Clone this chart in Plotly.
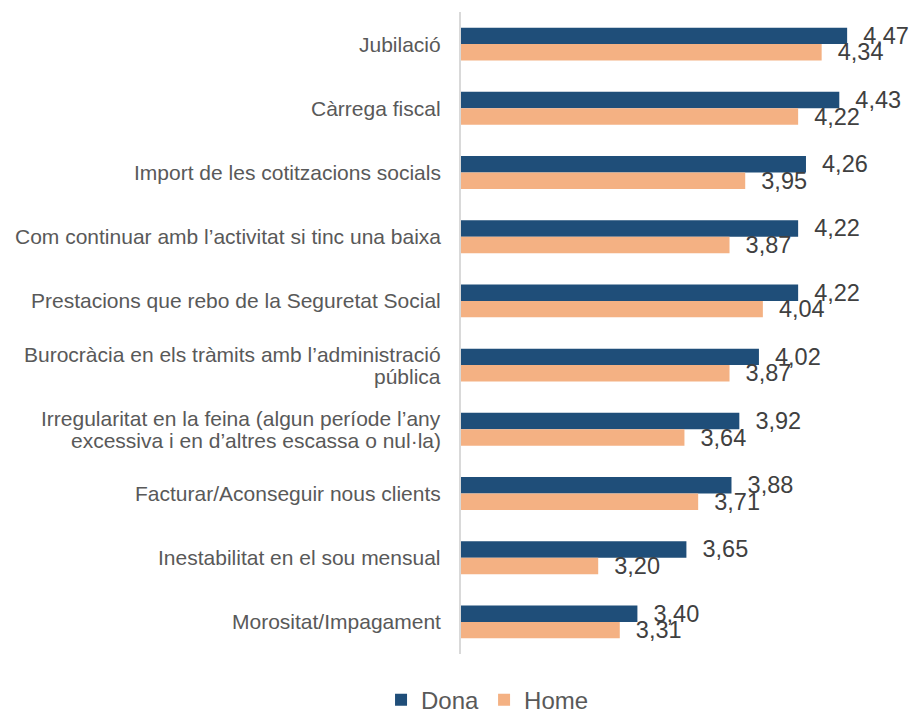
import plotly.graph_objects as go

categories = [
    "Jubilació",
    "Càrrega fiscal",
    "Import de les cotitzacions socials",
    "Com continuar amb l’activitat si tinc una baixa",
    "Prestacions que rebo de la Seguretat Social",
    "Burocràcia en els tràmits amb l’administració<br>pública",
    "Irregularitat en la feina (algun període l’any<br>excessiva i en d’altres escassa o nul·la)",
    "Facturar/Aconseguir nous clients",
    "Inestabilitat en el sou mensual",
    "Morositat/Impagament",
]
dona = [4.47, 4.43, 4.26, 4.22, 4.22, 4.02, 3.92, 3.88, 3.65, 3.40]
home = [4.34, 4.22, 3.95, 3.87, 4.04, 3.87, 3.64, 3.71, 3.20, 3.31]

FONT = "Liberation Sans, Arial, sans-serif"
LABEL_FONT = dict(family=FONT, size=23.5, color="#404040")

fig = go.Figure()
fig.add_trace(go.Bar(
    name="Dona", y=categories, x=dona, orientation="h",
    marker=dict(color="#1F4E79", line=dict(width=0)),
    texttemplate="\u00a0\u00a0%{x:.2f}", textposition="outside",
    constraintext="none", textfont=LABEL_FONT,
))
fig.add_trace(go.Bar(
    name="Home", y=categories, x=home, orientation="h",
    marker=dict(color="#F4B183", line=dict(width=0)),
    texttemplate="\u00a0\u00a0%{x:.2f}", textposition="outside",
    constraintext="none", textfont=LABEL_FONT,
))

LINE_H = 22
annotations = []
for c in categories:
    lines = c.split("<br>")
    n = len(lines)
    for i, ln in enumerate(lines):
        annotations.append(dict(
            text=ln, x=0, xref="paper", y=c, yref="y", xanchor="right",
            yanchor="middle", xshift=-18,
            yshift=((n - 1) / 2 - i) * LINE_H,
            showarrow=False,
            font=dict(family=FONT, size=21, color="#595959")))

fig.update_layout(
    width=913, height=713,
    margin=dict(l=461, r=0, t=12, b=59),
    paper_bgcolor="white", plot_bgcolor="white",
    barmode="group", bargap=0.487, bargroupgap=0,
    separators=", ",
    font=dict(family=FONT, size=20, color="#595959"),
    xaxis=dict(range=[2.5, 4.806], showticklabels=False, showgrid=False,
               zeroline=False, showline=False, ticks=""),
    yaxis=dict(autorange="reversed", showticklabels=False, showgrid=False,
               zeroline=False, showline=True, linecolor="#D9D9D9",
               linewidth=2, ticks=""),
    legend=dict(orientation="h", xref="container", yref="container",
                x=0.534, xanchor="center", y=0.018, yanchor="middle",
                traceorder="normal",
                font=dict(family=FONT, size=24, color="#595959"),
                itemwidth=30),
    annotations=annotations,
    showlegend=True,
)

fig.write_html("out.html", config={"displayModeBar": False},
               post_script="document.body.style.margin='0';")
